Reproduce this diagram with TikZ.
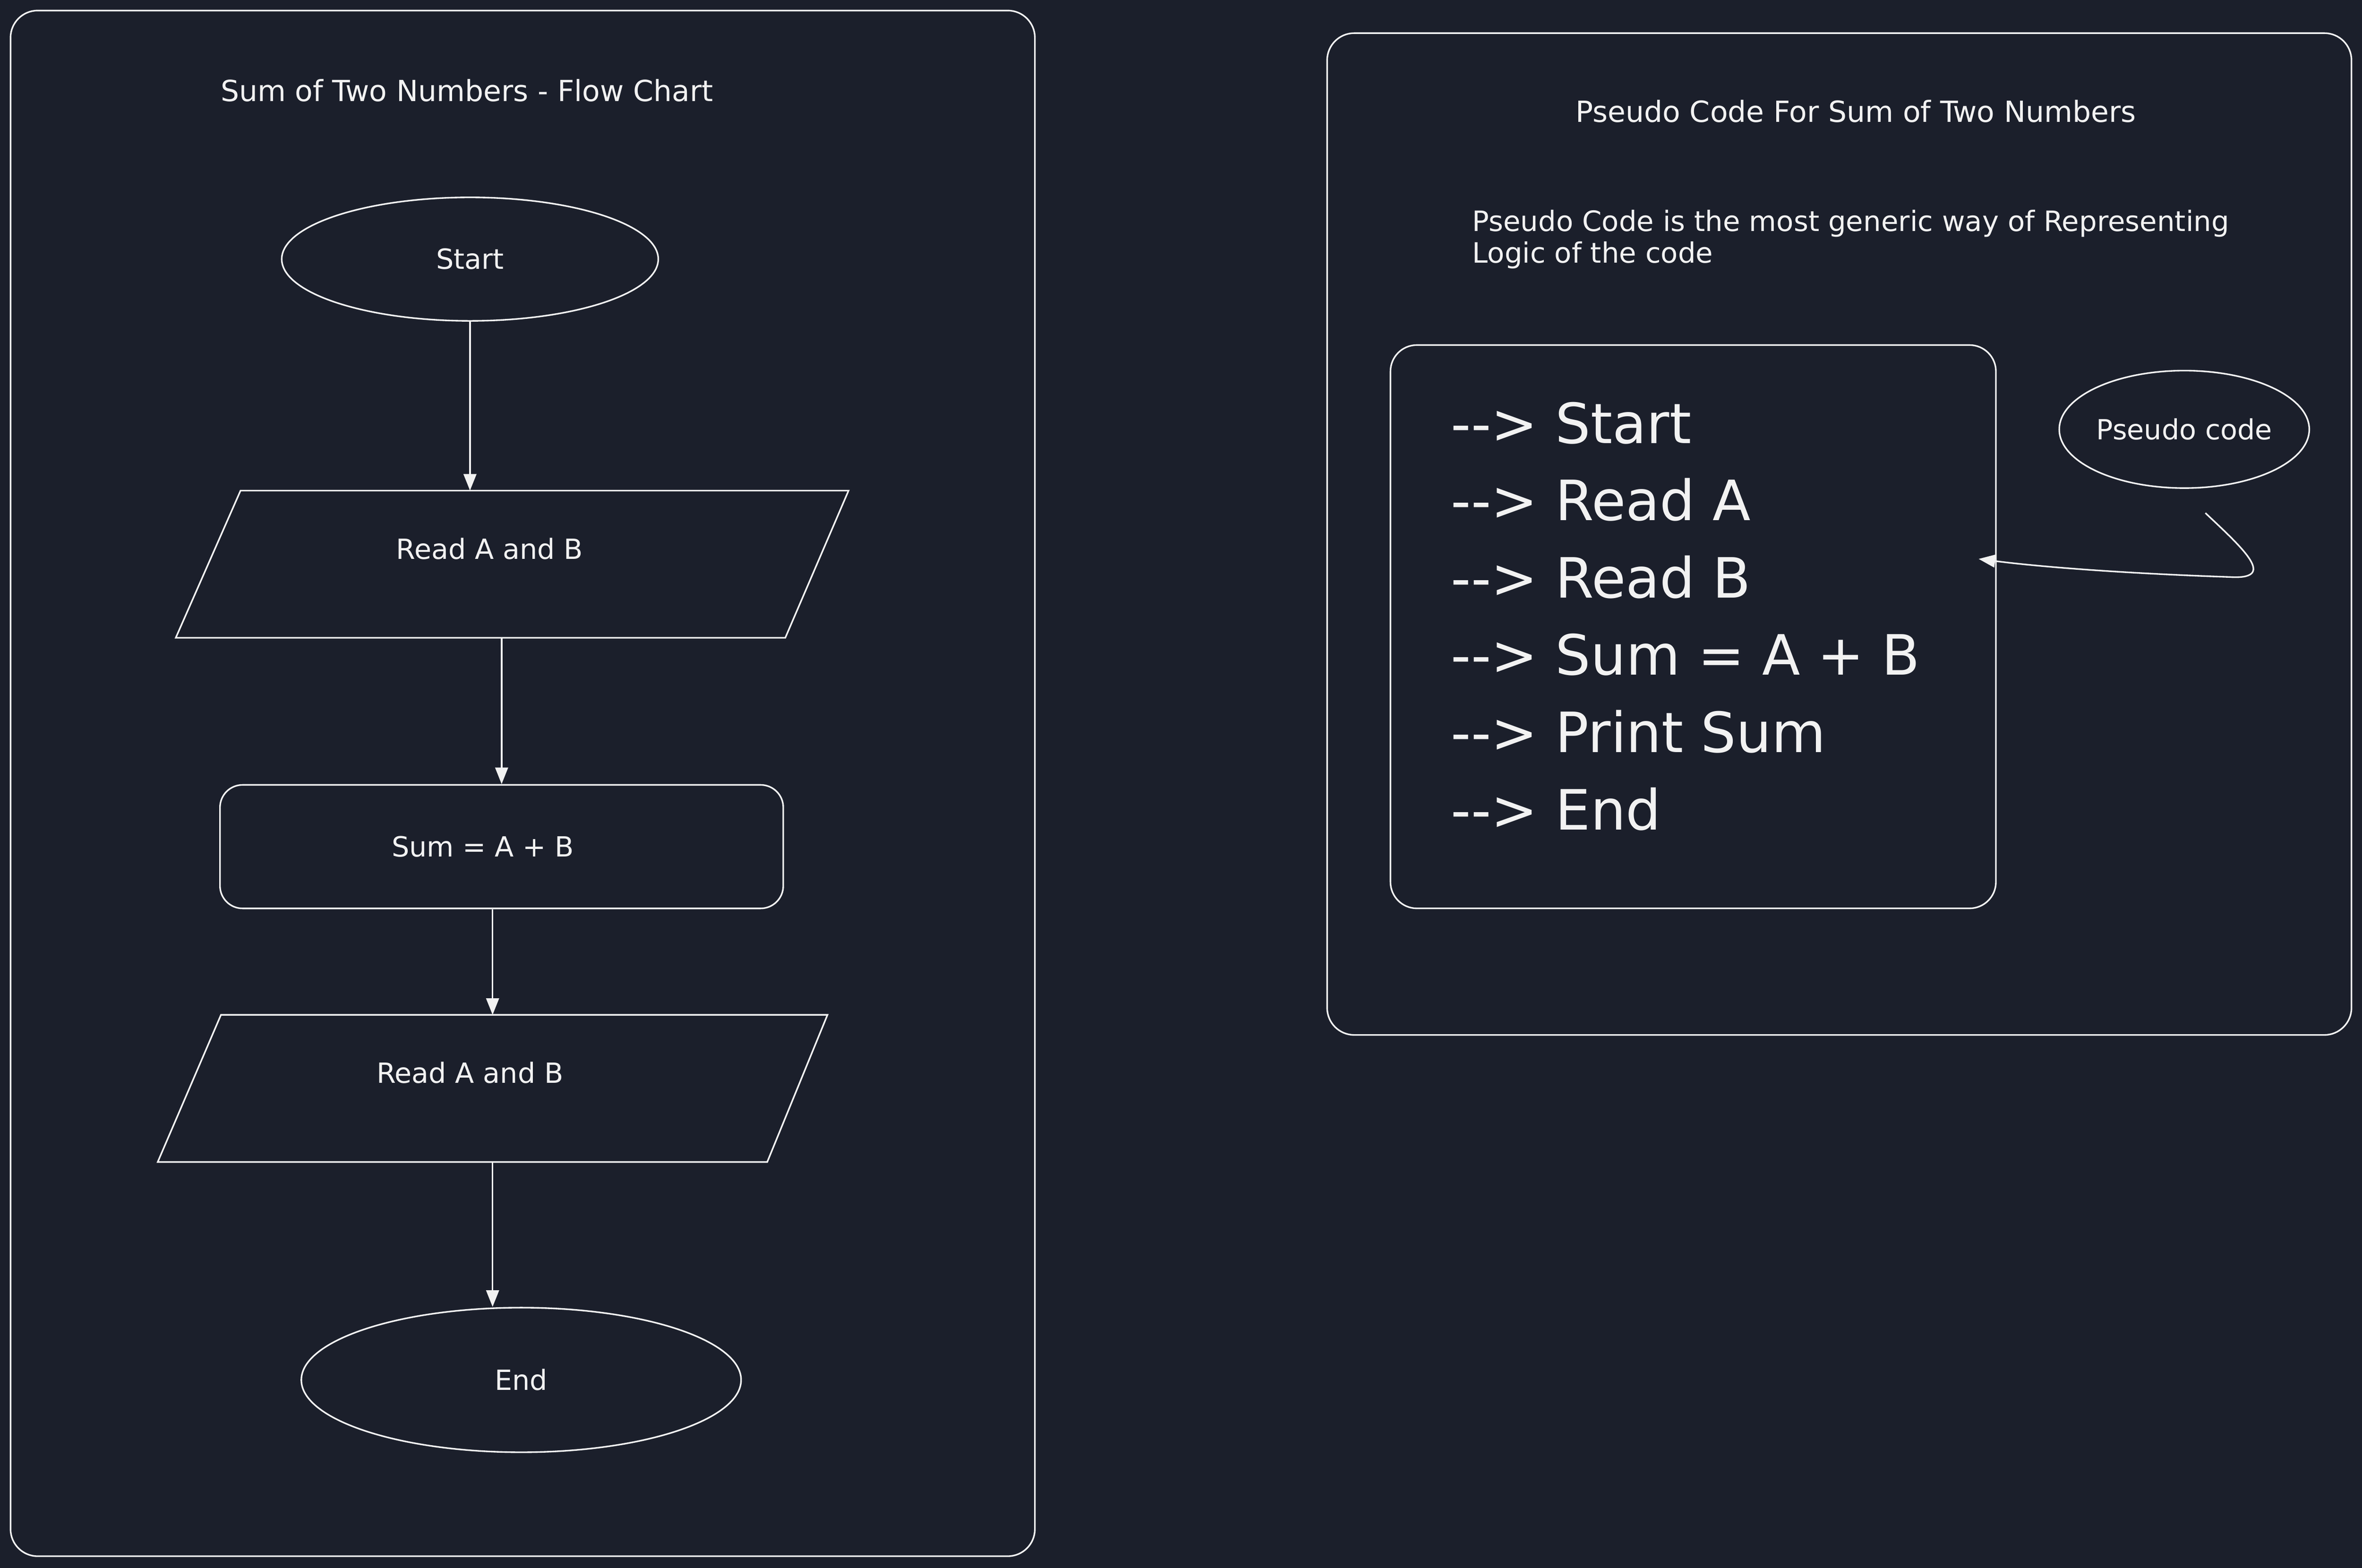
\documentclass[tikz,border=0pt]{standalone}
\usepackage{fontspec}
\setmainfont{DejaVu Sans}
\usetikzlibrary{shapes.geometric,arrows.meta,positioning}
\definecolor{bgnavy}{HTML}{1B1F2B}
\definecolor{inkwhite}{HTML}{F2F2F2}
\tikzset{
  sketch/.style={draw=inkwhite, line width=0.6pt},
  panel/.style={sketch, rounded corners=0.36cm},
  terminal/.style={sketch, ellipse, inner sep=0pt, text=inkwhite, font=\fontsize{10.5}{12}\selectfont},
  process/.style={sketch, rounded corners=0.3cm, inner sep=0pt, text=inkwhite, font=\fontsize{10.5}{12}\selectfont},
  iobox/.style={inner sep=0pt, minimum width=8.92cm, minimum height=1.94cm, text depth=0.42cm, text=inkwhite, font=\fontsize{10.5}{12}\selectfont},
  headtext/.style={text=inkwhite, inner sep=0pt, font=\fontsize{11}{12}\selectfont},
  codetext/.style={text=inkwhite, inner sep=0pt, align=left, font=\fontsize{21}{29.2}\selectfont},
  flow/.style={draw=inkwhite, line width=0.6pt, -{Triangle[length=0.22cm,width=0.17cm]}}
}
\newcommand{\arrowmark}{-{}-{}> }
\begin{document}
\begin{tikzpicture}[x=0.02cm, y=-0.02cm]
    \fill[bgnavy] (0,0) rectangle (1568,1040.7);
    \useasboundingbox (0,0) rectangle (1568,1040.7);
    % panels
    \draw[panel] (7,7) rectangle (687,1033);
    \draw[panel] (881,22) rectangle (1561,687);

    % flow chart
    \node[headtext] (fctitle) at (310,60) {Sum of Two Numbers - Flow Chart};
    \node[terminal, minimum width=5cm, minimum height=1.64cm] (start) at (312,172) {Start};
    \node[iobox] (read1) at (340,374.5) {Read A and B\kern0.6cm\relax};
    \draw[sketch] ([xshift=0.86cm]read1.north west) -- (read1.north east) -- ([xshift=-0.84cm]read1.south east) -- (read1.south west) -- cycle;
    \node[process, minimum width=7.48cm, minimum height=1.64cm] (sum) at (333,562) {Sum = A + B\kern0.5cm\relax};
    \node[iobox, minimum width=8.88cm] (read2) at (327,722.5) {Read A and B\kern0.6cm\relax};
    \draw[sketch] ([xshift=0.84cm]read2.north west) -- (read2.north east) -- ([xshift=-0.8cm]read2.south east) -- (read2.south west) -- cycle;
    \node[terminal, minimum width=5.84cm, minimum height=1.92cm] (end) at (346,916) {End};

    \draw[flow] (start.south) -- (start.south |- read1.north);
    \draw[flow] (sum.north |- read1.south) -- (sum.north);
    \draw[flow] (read2.north |- sum.south) -- (read2.north);
    \draw[flow] (read2.south) -- (read2.south |- end.north);

    % pseudo code
    \node[headtext] (pctitle) at (1232,74) {Pseudo Code For Sum of Two Numbers};
    \node[headtext, anchor=north west, align=left, font=\fontsize{10.6}{12}\selectfont] (intro) at (977,139)
        {Pseudo Code is the most generic way of Representing\\Logic of the code};
    \node[process, rounded corners=0.35cm, minimum width=8.04cm, minimum height=7.48cm] (codebox) at (1124,416) {};
    \node[codetext, anchor=west] (code) at (963,409)
        {\arrowmark Start\\\arrowmark Read A\\\arrowmark Read B\\\arrowmark Sum = A + B\\\arrowmark Print Sum\\\arrowmark End};
    \node[terminal, minimum width=3.32cm, minimum height=1.56cm] (callout) at (1450,285) {Pseudo code};
    \draw[flow] ([xshift=0.28cm,yshift=-0.32cm]callout.south) .. controls (1490,365) and (1512,385) .. (1480,383)
        .. controls (1420,381) and (1360,377) .. ([xshift=-0.24cm,yshift=0.9cm]codebox.east);
\end{tikzpicture}
\end{document}
